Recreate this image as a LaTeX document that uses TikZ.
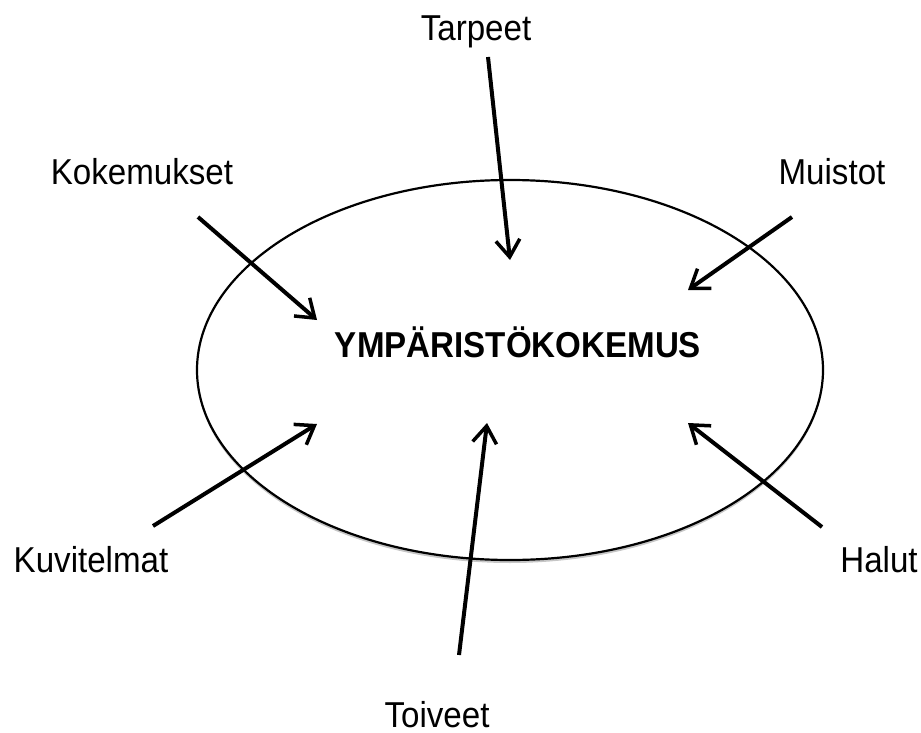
\documentclass[tikz,border=0pt]{standalone}
\usepackage{fontspec}
\setmainfont{Liberation Sans}
\usetikzlibrary{arrows.meta,shapes.geometric,shadows}
\begin{document}
\begin{tikzpicture}[x=1pt,y=-1pt,
  lbl/.style={font=\fontsize{36}{40}\selectfont, xscale=0.92, inner sep=0, anchor=base},
  ttl/.style={font=\fontsize{36}{40}\selectfont\bfseries, xscale=0.92, inner sep=0, anchor=base},
  arr/.style={line width=4pt, -{Straight Barb[length=17pt,width=24pt,line width=3.5pt]}},
  oval/.style={ellipse, draw, line width=2.2pt, fill=white, minimum width=626pt, minimum height=380pt, inner sep=0,
    drop shadow={shadow xshift=0pt, shadow yshift=-3pt, opacity=0.45}}]
\useasboundingbox (0,0) rectangle (921,733);
\node[oval] (oval) at (510,370) {};
\node[ttl] (title) at (518,357) {YMPÄRISTÖKOKEMUS};
\node[lbl] (tarpeet) at (476,41) {Tarpeet};
\node[lbl] (kokemukset) at (142,185) {Kokemukset};
\node[lbl] (muistot) at (832,185) {Muistot};
\node[lbl] (kuvitelmat) at (91,572) {Kuvitelmat};
\node[lbl] (halut) at (879,572) {Halut};
\node[lbl] (toiveet) at (437,727) {Toiveet};
\coordinate (tA) at (488,57);  \coordinate (hA) at (510,260);
\coordinate (tB) at (198,217); \coordinate (hB) at (317,320);
\coordinate (tC) at (792,217); \coordinate (hC) at (688,290);
\coordinate (tD) at (153,526); \coordinate (hD) at (317,424);
\coordinate (tE) at (459,655); \coordinate (hE) at (487,423);
\coordinate (tF) at (822,527); \coordinate (hF) at (688,423);
\draw[arr] (tA) -- (hA);
\draw[arr] (tB) -- (hB);
\draw[arr] (tC) -- (hC);
\draw[arr] (tD) -- (hD);
\draw[arr] (tE) -- (hE);
\draw[arr] (tF) -- (hF);
\end{tikzpicture}
\end{document}
